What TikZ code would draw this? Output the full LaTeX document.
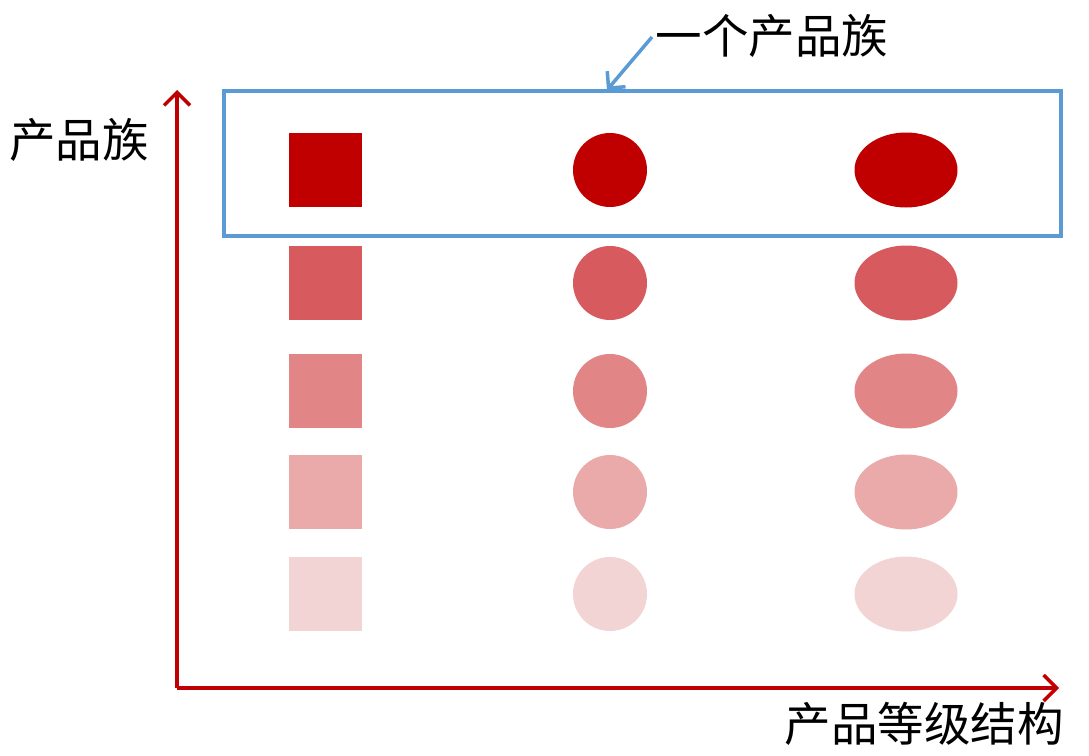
\documentclass[tikz,border=0pt]{standalone}
\usepackage{fontspec}
\newfontfamily\cjk{Noto Sans CJK SC}
\usetikzlibrary{arrows.meta,shapes.geometric}
\definecolor{axred}{RGB}{192,0,0}
\definecolor{boxblue}{RGB}{91,155,213}
\definecolor{r1}{RGB}{192,0,0}
\definecolor{r2}{RGB}{215,91,94}
\definecolor{r3}{RGB}{225,133,135}
\definecolor{r4}{RGB}{234,170,170}
\definecolor{r5}{RGB}{243,212,212}
\tikzset{
  axis/.style={draw=axred,line width=3.5pt,-{Straight Barb[length=13pt,width=26pt,line width=3.5pt]}},
  callout/.style={draw=boxblue,line width=3.5pt,-{Straight Barb[length=12pt,width=24pt,line width=3.5pt]}},
  sq/.style={rectangle,minimum width=73pt,minimum height=74pt,inner sep=0pt,draw=none},
  circ/.style={circle,minimum size=74pt,inner sep=0pt,draw=none},
  ell/.style={ellipse,minimum width=103pt,minimum height=75pt,inner sep=0pt,draw=none},
  lbl/.style={font=\cjk\fontsize{46.5}{52}\selectfont,inner sep=0pt,text=black},
}
\begin{document}
\begin{tikzpicture}[x=1pt,y=-1pt]
\useasboundingbox (0,0) rectangle (1089,755);
\fill[white] (0,0) rectangle (1089,755);
\coordinate (O) at (177,688);
\coordinate (Ytip) at (177,90);
\coordinate (Xtip) at (1059,688);
\draw[axis] (O) -- (Ytip);
\draw[axis] (O) -- (Xtip);
\foreach \r/\y in {1/170,2/283,3/391,4/492,5/594}{
  \node[sq,fill=r\r] (s\r) at (325,\y) {};
  \node[circ,fill=r\r] (c\r) at (610,\y) {};
  \node[ell,fill=r\r] (e\r) at (906,\y) {};
}
\node[draw=boxblue,line width=3.5pt,minimum width=837pt,minimum height=145pt,inner sep=0pt] (fam) at (642.5,163.5) {};
\node[lbl] (famlbl) at (772,36) {一个产品族};
\coordinate (calloutStart) at (652,37);
\coordinate (calloutEnd) at (607,90);
\draw[callout] (calloutStart) -- (calloutEnd);
\node[lbl] (ylbl) at (79,140) {产品族};
\node[lbl] (xlbl) at (924,724) {产品等级结构};
\end{tikzpicture}
\end{document}
